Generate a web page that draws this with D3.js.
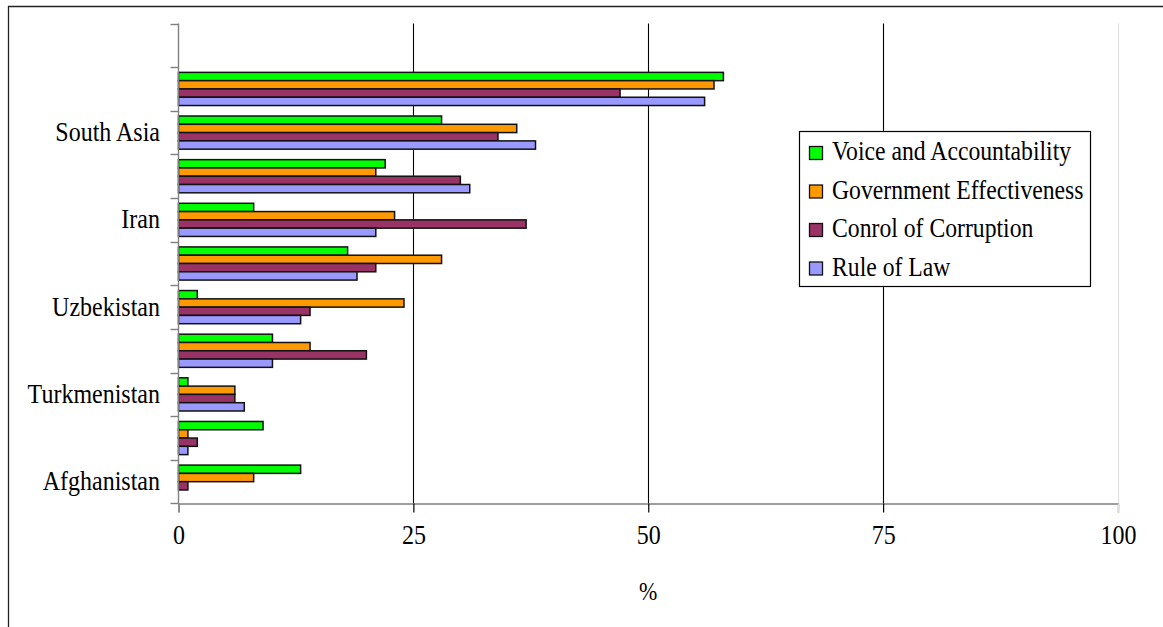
<!DOCTYPE html>
<html>
<head>
<meta charset="utf-8">
<script src="https://cdn.jsdelivr.net/npm/d3@7/dist/d3.min.js"></script>
<style>
  html, body { margin: 0; padding: 0; background: #fff; }
  svg { display: block; }
  text { font-family: "Liberation Serif", "Times New Roman", serif; fill: #000; }
</style>
</head>
<body>
<svg id="chart" width="1163" height="627"></svg>
<script>
// Categories from top to bottom; only every other one carries a label.
const categories = ["", "", "South Asia", "", "Iran", "", "Uzbekistan", "", "Turkmenistan", "", "Afghanistan"];

// Governance indicators, percentile rank (%), one value per category (top to bottom).
const seriesNames = ["Voice and Accountability", "Government Effectiveness", "Conrol of Corruption", "Rule of Law"];
const voiceAccountability     = [null, 58, 28, 22,  8, 18,  2, 10, 1, 9, 13];
const governmentEffectiveness = [null, 57, 36, 21, 23, 28, 24, 14, 6, 1,  8];
const controlOfCorruption     = [null, 47, 34, 30, 37, 21, 14, 20, 6, 2,  1];
const ruleOfLaw               = [null, 56, 38, 31, 21, 19, 13, 10, 7, 1, null];
const seriesValues = [voiceAccountability, governmentEffectiveness, controlOfCorruption, ruleOfLaw];
const seriesColors = ["#00ff00", "#ff9900", "#993366", "#9999ff"];

const xTicks = [0, 25, 50, 75, 100];
const xLabel = "%";

const FONT = "'Liberation Serif', 'Times New Roman', serif";
const STRETCH = 1.12; // text is drawn slightly taller than wide

// Places a text at (px, py) with a vertical stretch about its baseline
function stretchedText(sel, px, py) {
  return sel.attr("x", 0).attr("y", 0)
    .attr("transform", (d, i) => {
      const tx = typeof px === "function" ? px(d, i) : px;
      const ty = typeof py === "function" ? py(d, i) : py;
      return `translate(${tx},${ty}) scale(1,${STRETCH})`;
    })
    .attr("font-family", FONT);
}

const svg = d3.select("#chart");

// Outer chart frame (top and left edges)
svg.append("path")
  .attr("d", "M8.5,627 L8.5,6.5 L1163,6.5")
  .attr("fill", "none").attr("stroke", "#222").attr("stroke-width", 1.3);

const plot = { left: 178.5, right: 1118, top: 23.5, bottom: 503.5 };

const x = d3.scaleLinear().domain([0, 100]).range([plot.left, plot.right]);
const y = d3.scaleBand()
  .domain(d3.range(categories.length))
  .range([plot.top, plot.bottom])
  .paddingInner(0.24)
  .paddingOuter(0.12);
const ySub = d3.scaleBand().domain(d3.range(seriesNames.length)).range([0, y.bandwidth()]);

// Vertical gridlines (extending down as tick marks)
const gridColor = t => (t === 100 ? "#dddddd" : "#000");
svg.append("g").selectAll("line")
  .data(xTicks.filter(t => t > 0))
  .join("line")
  .attr("x1", d => Math.round(x(d)) + 0.5).attr("x2", d => Math.round(x(d)) + 0.5)
  .attr("y1", plot.top).attr("y2", plot.bottom)
  .attr("stroke", gridColor).attr("stroke-width", 1.1);

// Bars
const bars = svg.append("g");
seriesValues.forEach((vals, s) => {
  bars.append("g").selectAll("rect")
    .data(vals.map((v, i) => ({ v, i })).filter(d => d.v != null && d.v > 0))
    .join("rect")
    .attr("x", x(0))
    .attr("y", d => y(d.i) + ySub(s))
    .attr("width", d => x(d.v) - x(0))
    .attr("height", ySub.bandwidth())
    .attr("fill", seriesColors[s])
    .attr("stroke", "#111")
    .attr("stroke-width", 1.5);
});

// Y axis: line with ticks at category boundaries
const yAxis = svg.append("g");
yAxis.append("line")
  .attr("x1", plot.left).attr("x2", plot.left)
  .attr("y1", plot.top).attr("y2", plot.bottom)
  .attr("stroke", "#808080").attr("stroke-width", 1.4);
const boundaries = d3.range(categories.length + 1).map(i => plot.top + i * y.step());
yAxis.selectAll(".ytick")
  .data(boundaries)
  .join("line")
  .attr("class", "ytick")
  .attr("x1", plot.left - 8).attr("x2", plot.left)
  .attr("y1", d => Math.round(d) + 0.5).attr("y2", d => Math.round(d) + 0.5)
  .attr("stroke", "#808080").attr("stroke-width", 1.4);
stretchedText(
  yAxis.selectAll(".ylabel")
    .data(categories.map((c, i) => ({ c, i })).filter(d => d.c))
    .join("text")
    .attr("class", "ylabel")
    .attr("text-anchor", "end")
    .attr("font-size", 24)
    .text(d => d.c),
  160,
  d => y(d.i) + y.bandwidth() / 2 + 8.5
);

// X axis with D3 axis generator
const xAxis = svg.append("g")
  .attr("transform", `translate(0,${plot.bottom})`)
  .call(d3.axisBottom(x).tickValues(xTicks).tickSize(9).tickPadding(14).tickFormat(d3.format("d")));
xAxis.select(".domain").attr("stroke", "#808080").attr("stroke-width", 1.4);
xAxis.selectAll(".tick line").attr("stroke", d => (d === 0 ? "#808080" : gridColor(d))).attr("stroke-width", 1.2);
xAxis.selectAll(".tick text").remove();
stretchedText(
  xAxis.selectAll(".tick").append("text")
    .attr("text-anchor", "middle")
    .attr("font-size", 24)
    .attr("fill", "#000")
    .text(d => d3.format("d")(d)),
  0,
  40
);

stretchedText(
  svg.append("g").append("text")
    .attr("text-anchor", "middle")
    .attr("font-size", 22)
    .text(xLabel),
  x(50),
  600
);

// Legend
const legend = svg.append("g");
legend.append("rect")
  .attr("x", 799.5).attr("y", 131.5).attr("width", 291).attr("height", 155)
  .attr("fill", "#fff").attr("stroke", "#000").attr("stroke-width", 1.2);
seriesNames.forEach((name, s) => {
  const base = 160 + s * 38.5;
  legend.append("rect")
    .attr("x", 809.5).attr("y", base - 13.5).attr("width", 13).attr("height", 13)
    .attr("fill", seriesColors[s]).attr("stroke", "#111").attr("stroke-width", 1.3);
  stretchedText(
    legend.append("text")
      .attr("font-size", 23.7)
      .text(name),
    832,
    base
  );
});
</script>
</body>
</html>
